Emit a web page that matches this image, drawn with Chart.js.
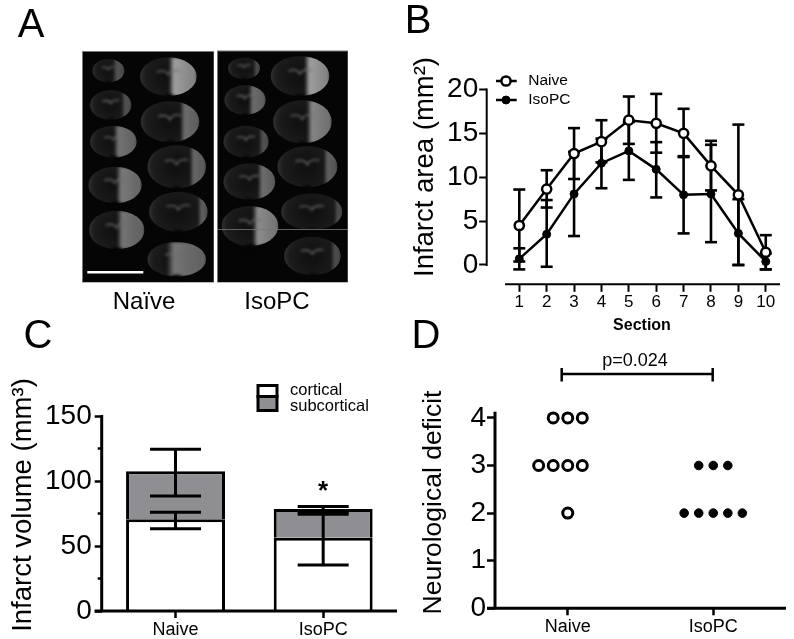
<!DOCTYPE html>
<html><head><meta charset="utf-8">
<script src="https://cdn.jsdelivr.net/npm/chart.js@4"></script>
<style>
html,body{margin:0;padding:0;background:#fff;width:794px;height:639px;overflow:hidden}
canvas{position:absolute;display:block}
.t{position:absolute;font-family:"Liberation Sans",Arial,sans-serif;color:#000;white-space:nowrap;line-height:1;transform:translateX(-50%)}
.l{font-size:40px}.c{font-size:24px}
</style></head><body>
<canvas id="photo" width="400" height="300" style="left:0;top:0"></canvas>
<canvas id="cB" width="394" height="300" style="left:400px;top:40px"></canvas>
<canvas id="cC" width="400" height="289" style="left:0;top:350px"></canvas>
<canvas id="cD" width="394" height="289" style="left:400px;top:350px"></canvas>
<div class="t l" style="left:31px;top:3px">A</div>
<div class="t l" style="left:418px;top:-1px">B</div>
<div class="t l" style="left:38px;top:314px">C</div>
<div class="t l" style="left:426px;top:314px">D</div>
<div class="t c" style="left:144px;top:289px">Naïve</div>
<div class="t c" style="left:277px;top:289px">IsoPC</div>
<script>
const FONT='"Liberation Sans",Arial,sans-serif';
// Panel B
const sections=[1,2,3,4,5,6,7,8,9,10];
const areaTicks=[0,5,10,15,20];
const naiveArea=[4.5,8.65,12.7,14.05,16.5,16.15,15.0,11.3,8.0,1.45];
const naiveAreaHi=[8.6,10.8,15.6,16.5,19.2,19.5,17.8,14.15,16.0,3.4];
const naiveAreaLo=[0.4,6.55,9.8,11.7,13.8,12.8,12.3,8.5,0,-0.5];
const isoArea=[0.7,3.5,8.1,11.6,13.0,10.9,8.0,8.1,3.6,0.4];
const isoAreaHi=[1.9,7.4,12.9,14.4,16.3,14.0,12.4,13.7,7.5,1.3];
const isoAreaLo=[-0.5,-0.2,3.3,8.75,9.7,7.7,3.6,2.6,0,-0.5];
// Panel C
const groups=['Naive','IsoPC'];
const volumeTicks=[0,50,100,150];
const volumeMinorTicks=[25,75,125];
const cortical=[70.5,56.4];
const subcortical=[37,22.1];
const totalHi=[124.4,80.3];
const totalLo=[88.5,74.4];
const corticalHi=[75.9,76.4];
const corticalLo=[63.3,35.4];
// Panel D
const deficitTicks=[0,1,2,3,4];
const naiveDeficit=[4,4,4,3,3,3,3,2];
const naiveSwarm=[0.9,1,1.1,0.8,0.9,1,1.1,1];
const isoDeficit=[3,3,3,2,2,2,2,2];
const isoSwarm=[1.9,2,2.1,1.8,1.9,2,2.1,2.2];

const fixed=(w,h)=>({afterFit(s){if(w!=null)s.width=w;if(h!=null)s.height=h;}});
function setTicks(arr){return s=>{s.ticks=arr.map(v=>({value:v}));};}
function rotTitle(ctx,txt,x,y,size){ctx.save();ctx.translate(x,y);ctx.rotate(-Math.PI/2);ctx.font=size+'px '+FONT;ctx.fillStyle='#000';ctx.textAlign='center';ctx.textBaseline='middle';ctx.fillText(txt,0,0);ctx.restore();}
function line(ctx,x1,y1,x2,y2,w){ctx.save();ctx.strokeStyle='#000';ctx.lineWidth=w;ctx.beginPath();ctx.moveTo(x1,y1);ctx.lineTo(x2,y2);ctx.stroke();ctx.restore();}
function errBar(ctx,x,hiY,loY,cap,w){line(ctx,x,hiY,x,loY,w);line(ctx,x-cap,hiY,x+cap,hiY,w);line(ctx,x-cap,loY,x+cap,loY,w);}

// ---------- Panel A: photographic panel, painted approximately ----------
(function(){
 const c=document.getElementById('photo').getContext('2d');
 c.fillStyle='#777';c.fillRect(82,51,132,231.5);c.fillRect(217,50.5,131,232);
 c.fillStyle='#050505';c.fillRect(83,52,130.5,230);c.fillRect(218,51.5,129.5,230.5);
 const s=[[325,212,48,35,.2,.3],[332,315,62,45,.12,.3],[340,425,70,48,.4,.55],[345,555,80,55,.4,.6],[350,690,83,58,.42,.55],
  [505,230,85,58,.42,.9],[510,365,88,62,.25,.5],[530,500,88,65,.2,.45],[535,635,88,60,.08,.4],[530,778,88,52,.6,.55],
  [732,205,48,32,.05,.25],[735,300,62,45,.3,.5],[738,425,68,48,.1,.3],[748,545,78,55,.25,.5],[750,678,85,60,.38,.75],
  [900,228,88,60,.35,.9],[907,365,88,65,.35,.7],[922,500,90,62,.15,.4],[935,635,92,55,.05,.25],[937,768,85,58,.08,.25]];
 c.save();c.scale(1/3,1/3);c.filter='blur(1.5px)';
 s.forEach(([x,y,rx,ry,f,b])=>{
  c.save();c.beginPath();c.ellipse(x,y,rx,ry,0,0,Math.PI*2);c.clip();
  const base=c.createRadialGradient(x,y,rx*.2,x,y,rx);
  base.addColorStop(0,'#111111');base.addColorStop(.8,'#1c1c1c');base.addColorStop(1,'#333333');
  c.fillStyle=base;c.fillRect(x-rx-5,y-ry-5,2*rx+10,2*ry+10);
  const v=Math.round(50+130*b),edge=x+rx*(1-2*f);
  const g=c.createLinearGradient(edge-12,0,x+rx,0);
  g.addColorStop(0,'rgba('+v+','+v+','+v+',0)');g.addColorStop(.18,'rgba('+v+','+v+','+v+',.95)');g.addColorStop(1,'rgba('+v+','+v+','+v+',.7)');
  c.fillStyle=g;c.fillRect(edge-12,y-ry,x+rx-edge+12,2*ry);
  c.restore();
  c.strokeStyle='#6e6e6e';c.lineWidth=4;c.beginPath();c.moveTo(x-rx*.4,y-ry*.25);c.quadraticCurveTo(x-rx*.1,y-ry*.4,x,y-ry*.1);c.quadraticCurveTo(x+rx*.1,y-ry*.4,x+rx*.4,y-ry*.3);c.stroke();
  c.fillStyle='#050505';c.beginPath();c.ellipse(x,y+ry+2,rx*.18,8,0,0,Math.PI*2);c.fill();
 });
 c.restore();
 c.fillStyle='#fff';c.fillRect(87.3,271,56,2.5);
 c.fillStyle='#777';c.fillRect(217,229,131,.8);
})();

// ---------- Panel B ----------
new Chart(document.getElementById('cB'),{
 type:'scatter',
 data:{datasets:[
  {label:'Naive',data:sections.map((s,i)=>({x:s,y:naiveArea[i]})),showLine:true,borderColor:'#000',borderWidth:2.5,backgroundColor:'#fff',pointBackgroundColor:'#fff',pointBorderColor:'#000',pointBorderWidth:2.5,pointRadius:4.6,clip:false},
  {label:'IsoPC',data:sections.map((s,i)=>({x:s,y:isoArea[i]})),showLine:true,borderColor:'#000',borderWidth:2.5,backgroundColor:'#000',pointBackgroundColor:'#000',pointBorderColor:'#000',pointBorderWidth:1,pointRadius:4,clip:false}
 ]},
 options:{responsive:false,animation:false,
  layout:{padding:{top:49.5,right:14,left:0,bottom:0}},
  plugins:{legend:{display:false},tooltip:{enabled:false}},
  scales:{
   x:{type:'linear',min:-0.19,max:10.52,...fixed(null,55.7),afterBuildTicks:setTicks(sections),
      border:{display:false},grid:{drawOnChartArea:false,tickLength:7.5,tickWidth:2,tickColor:'#000'},
      ticks:{color:'#000',font:{family:FONT,size:17},padding:0,autoSkip:false,maxRotation:0}},
   y:{min:-2.2,max:20,...fixed(86.7,null),afterBuildTicks:setTicks(areaTicks),
      border:{display:false},grid:{drawOnChartArea:false,tickLength:7.5,tickWidth:2,tickColor:'#000'},
      ticks:{color:'#000',font:{family:FONT,size:28},padding:1}}
  }},
 plugins:[{id:'panelB',
  beforeDatasetsDraw(ch){const c=ch.ctx,x=ch.scales.x,y=ch.scales.y;
   sections.forEach((s,i)=>{
    errBar(c,x.getPixelForValue(s),y.getPixelForValue(naiveAreaHi[i]),y.getPixelForValue(naiveAreaLo[i]),6,2.6);
    errBar(c,x.getPixelForValue(s),y.getPixelForValue(isoAreaHi[i]),y.getPixelForValue(isoAreaLo[i]),6,2.6);
   });},
  afterDraw(ch){const c=ch.ctx,x=ch.scales.x,y=ch.scales.y;
   line(c,x.left,y.getPixelForValue(20)-1,x.left,y.getPixelForValue(0)+1,2);
   line(c,x.getPixelForValue(0.48),y.bottom,x.right,y.bottom,2);
   rotTitle(c,'Infarct area (mm²)',25,127,27.5);
   const ds=ch.data.datasets;
   [[41,ds[0]],[60,ds[1]]].forEach(([py,d])=>{
    line(c,96,py,116.7,py,2.5);
    c.beginPath();c.arc(106,py,d.pointRadius,0,Math.PI*2);c.fillStyle=d.pointBackgroundColor;c.fill();c.lineWidth=d.pointBorderWidth;c.strokeStyle='#000';c.stroke();
    c.fillStyle='#000';c.font='15.5px '+FONT;c.textAlign='left';c.textBaseline='middle';c.fillText(d.label,128.3,py);
   });
   c.fillStyle='#000';c.font='bold 16px '+FONT;c.textAlign='center';c.textBaseline='middle';c.fillText('Section',242,286);
  }}]
});

// ---------- Panel C ----------
new Chart(document.getElementById('cC'),{
 type:'bar',
 data:{labels:groups,datasets:[
  {label:'cortical',data:cortical,backgroundColor:'#ffffff',borderColor:'#000',borderWidth:3,borderSkipped:'bottom',barPercentage:0.67,categoryPercentage:1},
  {label:'subcortical',data:subcortical,backgroundColor:'#8e8e93',borderColor:'#000',borderWidth:3,borderSkipped:'bottom',barPercentage:0.67,categoryPercentage:1}
 ]},
 options:{responsive:false,animation:false,
  layout:{padding:{top:66,right:3,left:0,bottom:0}},
  plugins:{legend:{display:false},tooltip:{enabled:false}},
  scales:{
   x:{stacked:true,...fixed(null,28),border:{display:false},
      grid:{drawOnChartArea:false,tickLength:7,tickWidth:2.5,tickColor:'#000',offset:false},
      ticks:{color:'#000',font:{family:FONT,size:18},padding:1,maxRotation:0}},
   y:{stacked:true,min:0,max:150,...fixed(101.7,null),afterBuildTicks:setTicks(volumeTicks),
      border:{display:false},grid:{drawOnChartArea:false,tickLength:7,tickWidth:2.5,tickColor:'#000'},
      ticks:{color:'#000',font:{family:FONT,size:28},padding:3}}
  }},
 plugins:[{id:'panelC',
  afterDatasetsDraw(ch){const c=ch.ctx,x=ch.scales.x,y=ch.scales.y;
   groups.forEach((g,i)=>{
    const px=x.getPixelForValue(i);
    errBar(c,px,y.getPixelForValue(totalHi[i]),y.getPixelForValue(totalLo[i]),25.5,3);
    errBar(c,px,y.getPixelForValue(corticalHi[i]),y.getPixelForValue(corticalLo[i]),25.5,3);
   });
   volumeMinorTicks.forEach(v=>line(c,x.left-4,y.getPixelForValue(v),x.left,y.getPixelForValue(v),2.5));
   line(c,x.left,y.getPixelForValue(150)-1,x.left,y.bottom,3);
   line(c,x.left-7,y.bottom,x.right,y.bottom,3);
   rotTitle(c,'Infarct volume (mm³)',23,155,27.5);
   const ds=ch.data.datasets;
   [[35.5,11,40,ds[0]],[46.5,14,56,ds[1]]].forEach(([by,bh,ty,d])=>{
    c.fillStyle=d.backgroundColor;c.fillRect(258,by,19,bh);c.strokeStyle='#000';c.lineWidth=3;c.strokeRect(258,by,19,bh);
    c.fillStyle='#000';c.font='16.5px '+FONT;c.textAlign='left';c.textBaseline='middle';c.fillText(d.label,290,ty);
   });
   c.fillStyle='#000';c.font='bold 26px '+FONT;c.textAlign='center';c.textBaseline='middle';c.fillText('*',x.getPixelForValue(1),y.getPixelForValue(92));
  }}]
});

// ---------- Panel D ----------
new Chart(document.getElementById('cD'),{
 type:'scatter',
 data:{datasets:[
  {label:'Naive',data:naiveDeficit.map((v,i)=>({x:naiveSwarm[i],y:v})),pointBackgroundColor:'#fff',pointBorderColor:'#000',pointBorderWidth:3,pointRadius:5,clip:false},
  {label:'IsoPC',data:isoDeficit.map((v,i)=>({x:isoSwarm[i],y:v})),pointBackgroundColor:'#000',pointBorderColor:'#000',pointBorderWidth:1,pointRadius:4.3,clip:false}
 ]},
 options:{responsive:false,animation:false,
  layout:{padding:{top:61.7,right:6,left:0,bottom:0}},
  plugins:{legend:{display:false},tooltip:{enabled:false}},
  scales:{
   x:{type:'linear',min:0.5,max:2.5,...fixed(null,30.7),afterBuildTicks:setTicks([1,2]),
      border:{display:false},grid:{drawOnChartArea:false,tickLength:7,tickWidth:2.5,tickColor:'#000'},
      ticks:{color:'#000',font:{family:FONT,size:18},padding:1,autoSkip:false,maxRotation:0,callback:v=>groups[v-1]}},
   y:{min:0,max:4.13,...fixed(95,null),afterBuildTicks:setTicks(deficitTicks),
      border:{display:false},grid:{drawOnChartArea:false,tickLength:8,tickWidth:2.5,tickColor:'#000'},
      ticks:{color:'#000',font:{family:FONT,size:28},padding:1}}
  }},
 plugins:[{id:'panelD',
  afterDraw(ch){const c=ch.ctx,x=ch.scales.x,y=ch.scales.y;
   line(c,x.left,y.top,x.left,y.bottom,3);
   line(c,x.left-8,y.bottom,x.right,y.bottom,3);
   rotTitle(c,'Neurological deficit',34,152.5,26.5);
   line(c,161.7,24,312.7,24,2.5);line(c,161.7,18,161.7,31.5,2.5);line(c,312.7,18,312.7,31.5,2.5);
   c.fillStyle='#000';c.font='18px '+FONT;c.textAlign='center';c.textBaseline='alphabetic';c.fillText('p=0.024',235,16);
  }}]
});
</script>
</body></html>
